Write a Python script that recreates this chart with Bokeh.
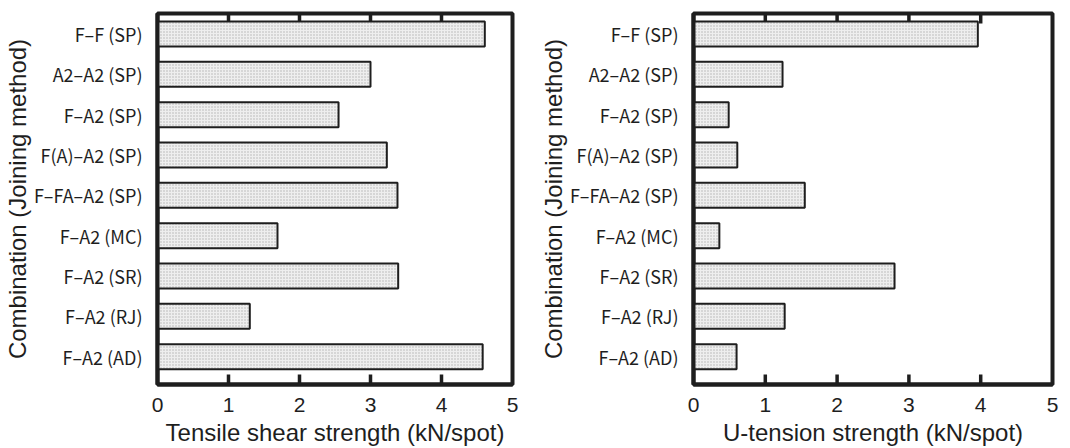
from bokeh.plotting import figure
from bokeh.layouts import row
from bokeh.models import Range1d, FixedTicker
from bokeh.embed import file_html
from bokeh.resources import INLINE

categories = ["F–F (SP)", "A2–A2 (SP)", "F–A2 (SP)", "F(A)–A2 (SP)", "F–FA–A2 (SP)",
              "F–A2 (MC)", "F–A2 (SR)", "F–A2 (RJ)", "F–A2 (AD)"]
tensile_shear = [4.61, 3.00, 2.55, 3.23, 3.38, 1.69, 3.39, 1.30, 4.58]
u_tension = [3.96, 1.24, 0.49, 0.61, 1.55, 0.36, 2.80, 1.27, 0.60]
x_ticks = [0, 1, 2, 3, 4, 5]
y_title = "Combination (Joining method)"
x_title_left = "Tensile shear strength (kN/spot)"
x_title_right = "U-tension strength (kN/spot)"

INK = "#1e1e1e"
LABEL_FONT = "Noto Sans CJK JP"
TITLE_FONT = "Liberation Sans"
X_MIN, X_MAX = 0, 5
Y_TOP, Y_BOTTOM = -0.507, 8.69
TICK_LEN = 0.25  # inward tick length, in category units


def panel(values, xtitle, width, border_left, border_right):
    positions = list(range(len(categories)))
    p = figure(width=width, height=448, output_backend="svg", toolbar_location=None,
               x_range=Range1d(X_MIN, X_MAX), y_range=Range1d(Y_BOTTOM, Y_TOP),
               min_border_left=border_left, min_border_right=border_right,
               min_border_top=13, min_border_bottom=62)
    p.xgrid.visible = False
    p.ygrid.visible = False
    p.background_fill_color = "white"
    p.border_fill_color = "white"
    p.outline_line_color = INK
    p.outline_line_width = 4

    inner = [t for t in x_ticks if X_MIN < t < X_MAX]
    n = len(inner)
    p.segment(x0=inner, x1=inner, y0=[Y_BOTTOM] * n, y1=[Y_BOTTOM - TICK_LEN] * n,
              line_color=INK, line_width=3.5)
    p.segment(x0=inner, x1=inner, y0=[Y_TOP] * n, y1=[Y_TOP + TICK_LEN] * n,
              line_color=INK, line_width=3.5)

    p.hbar(y=positions, left=0, right=values, height=0.62,
           fill_color="#eeeeee", line_color=INK, line_width=2,
           hatch_pattern="dot", hatch_color="#b0b0b0", hatch_scale=3, hatch_weight=0.7)

    xa = p.xaxis[0]
    xa.ticker = FixedTicker(ticks=x_ticks)
    xa.major_tick_in = 0
    xa.major_tick_out = 0
    xa.minor_tick_line_color = None
    xa.axis_line_width = 4
    xa.axis_line_color = INK
    xa.major_label_text_font = TITLE_FONT
    xa.major_label_text_font_size = "21px"
    xa.major_label_text_color = INK
    xa.major_label_standoff = 13
    xa.axis_label = xtitle
    xa.axis_label_text_font = TITLE_FONT
    xa.axis_label_text_font_size = "24px"
    xa.axis_label_text_font_style = "normal"
    xa.axis_label_text_color = INK
    xa.axis_label_standoff = 4

    ya = p.yaxis[0]
    ya.ticker = FixedTicker(ticks=positions)
    ya.major_label_overrides = {i: c for i, c in zip(positions, categories)}
    ya.major_tick_in = 0
    ya.major_tick_out = 0
    ya.minor_tick_line_color = None
    ya.axis_line_width = 4
    ya.axis_line_color = INK
    ya.major_label_text_font = LABEL_FONT
    ya.major_label_text_font_size = "18px"
    ya.major_label_text_color = INK
    ya.major_label_standoff = 15
    ya.axis_label = y_title
    ya.axis_label_text_font = TITLE_FONT
    ya.axis_label_text_font_size = "24px"
    ya.axis_label_text_font_style = "normal"
    ya.axis_label_text_color = INK
    ya.axis_label_standoff = 0
    return p


left = panel(tensile_shear, x_title_left, 535, 152, 23)
right = panel(u_tension, x_title_right, 535, 158, 18)
layout = row(left, right, spacing=0)

open("out.html", "w").write(file_html(layout, INLINE))
